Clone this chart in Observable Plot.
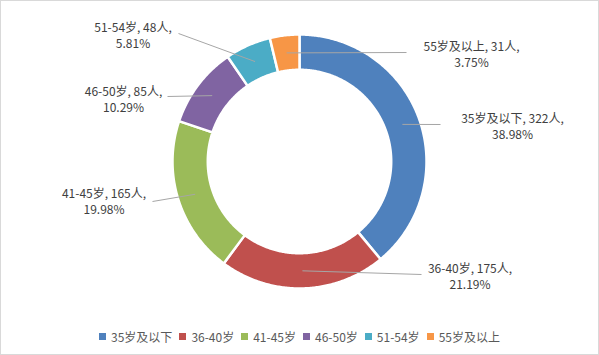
<!DOCTYPE html>
<html><head><meta charset="utf-8">
<script src="https://cdn.jsdelivr.net/npm/d3@7"></script>
<script src="https://cdn.jsdelivr.net/npm/@observablehq/plot@0.6"></script>
<style>
body{margin:0;background:#fff;}
#chart{position:relative;width:599px;height:355px;box-sizing:border-box;border:1px solid #d9d9d9;overflow:hidden;background:#fff;font-family:"Noto Sans CJK SC","Liberation Sans",sans-serif;}
#chart svg.main{display:block;}
#legend{height:35px;display:flex;align-items:center;justify-content:center;}
#legend .lg-swatches{min-height:0 !important;margin:0 !important;justify-content:center;}
#legend .lg-swatch{margin-right:7px !important;}
#legend .lg-swatch:last-child{margin-right:0 !important;}
#legend .lg-swatch > svg{margin-right:5px !important;}
</style>
</head><body>
<div id="chart"></div>
<script>
// ---- data ----
const categories = ["35岁及以下", "36-40岁", "41-45岁", "46-50岁", "51-54岁", "55岁及以上"];
const counts = [322, 175, 165, 85, 48, 31];
const colors = ["#4F81BD", "#C0504D", "#9BBB59", "#8064A2", "#4BACC6", "#F79646"];
// label layout hints (pixel offsets from the ring centre)
const labelOffsets = [[213, -35.5], [170.5, 114.5], [-195.5, 39.5], [-176, -63], [-166.5, -127], [172, -108]];
const leaderEnds = [[141, -37], [122, 113], [-147, 40], [-132, -65], [-121, -128], [107, -109]];

// ---- geometry ----
const W = 597, H = 318, cx = 298, cy = 160, R = 127;
const innerR = 91 / 126, midR = (1 + innerR) / 2;
const total = d3.sum(counts);
const pct = d3.format(".2%");
const pie = d3.pie().sort(null).value(d => d.count)(categories.map((c, i) => ({cat: c, count: counts[i]})));

const slices = pie.map((p, i) => {
  const a = (p.startAngle + p.endAngle) / 2;
  return {
    cat: p.data.cat, count: p.data.count,
    ax: midR * Math.sin(a), ay: midR * Math.cos(a),
    ex: leaderEnds[i][0] / R, ey: -leaderEnds[i][1] / R,
    lx: labelOffsets[i][0] / R, ly: -labelOffsets[i][1] / R,
    label: `${p.data.cat}, ${p.data.count}人,\n${pct(p.data.count / total)}`
  };
});

const ring = [];
for (const p of pie) {
  const n = Math.max(2, Math.ceil((p.endAngle - p.startAngle) / 0.01));
  const pts = [];
  for (let k = 0; k <= n; k++) {
    const a = p.startAngle + (p.endAngle - p.startAngle) * k / n;
    pts.push({cat: p.data.cat, x: Math.sin(a), y: Math.cos(a)});
  }
  for (let k = n; k >= 0; k--) {
    const a = p.startAngle + (p.endAngle - p.startAngle) * k / n;
    pts.push({cat: p.data.cat, x: innerR * Math.sin(a), y: innerR * Math.cos(a)});
  }
  pts.push(pts[0]);
  ring.push(...pts);
}

const chart = Plot.plot({
  width: W, height: H,
  margin: 0,
  x: {domain: [-cx / R, (W - cx) / R], range: [0, W], axis: null},
  y: {domain: [-(H - cy) / R, cy / R], range: [H, 0], axis: null},
  color: {domain: categories, range: colors},
  style: {fontFamily: '"Noto Sans CJK SC","Liberation Sans",sans-serif', background: "#fff", overflow: "visible"},
  marks: [
    Plot.line(ring, {x: "x", y: "y", z: "cat", fill: "cat", stroke: "#fff", strokeWidth: 2.5, strokeLinejoin: "round", curve: "linear"}),
    Plot.link(slices, {x1: "ax", y1: "ay", x2: "ex", y2: "ey", stroke: "#a6a6a6", strokeWidth: 1}),
    Plot.text(slices, {x: "lx", y: "ly", text: "label", fontSize: 12, lineHeight: 1.35, fill: "#404040", textAnchor: "middle"})
  ]
});
chart.classList.add("main");

const legend = Plot.legend({
  color: {domain: categories, range: colors},
  legend: "swatches",
  swatchSize: 7,
  className: "lg",
  style: {fontFamily: '"Noto Sans CJK SC","Liberation Sans",sans-serif', fontSize: "12px", color: "#595959"}
});
const lw = document.createElement("div");
lw.id = "legend";
lw.appendChild(legend);

const root = document.getElementById("chart");
root.appendChild(chart);
root.appendChild(lw);
</script>
</body></html>
